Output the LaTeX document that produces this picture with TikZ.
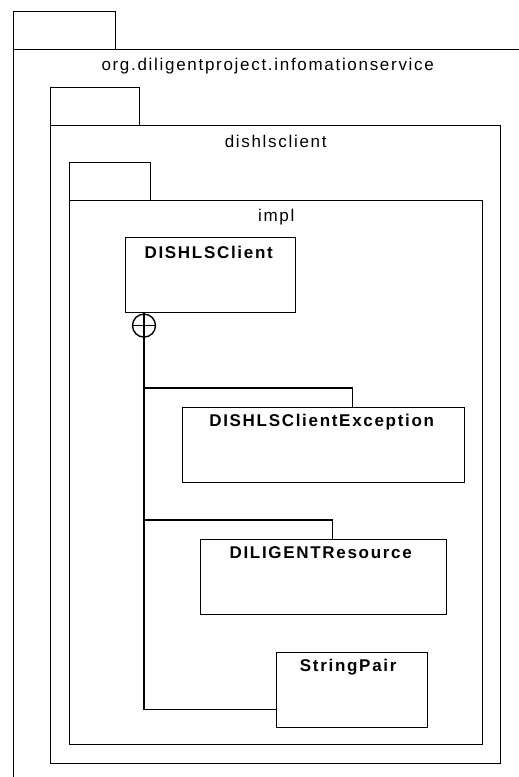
\documentclass[tikz,border=0pt]{standalone}
\usepackage{fontspec}
\setmainfont{Liberation Sans}[LetterSpace=10]
\usepackage{tikz}
\usetikzlibrary{positioning,calc}

\begin{document}
\begin{tikzpicture}[x=1pt,y=-1pt,line width=1.4pt,
pkgtab/.style={draw,rectangle,anchor=north west,minimum height=38pt,inner sep=0pt},
pkgbox/.style={draw,rectangle,anchor=north west,inner sep=0pt},
classbox/.style={draw,rectangle,anchor=north west,minimum height=75pt,inner sep=0pt},
pkgname/.style={font=\fontsize{17}{20}\selectfont,inner sep=0pt},
classname/.style={font=\fontsize{17}{20}\selectfont\bfseries,inner sep=0pt},
nest/.style={draw,circle,minimum size=23pt,inner sep=0pt,anchor=north}]
\useasboundingbox (0,0) rectangle (519,777);

% packages
\node[pkgtab,minimum width=102pt] (infotab) at (13,11) {};
\node[pkgbox,minimum width=508pt,minimum height=760pt] (info) at (13,49) {};
\node[pkgname] (infoname) at ([yshift=-17pt]info.north) {org.diligentproject.infomationservice};

\node[pkgtab,minimum width=89pt] (dishtab) at (50,87) {};
\node[pkgbox,minimum width=450pt,minimum height=638pt] (dish) at (50,125) {};
\node[pkgname] (dishname) at ([yshift=-16pt]dish.north) {dishlsclient};

\node[pkgtab,minimum width=81pt] (impltab) at (69,162) {};
\node[pkgbox,minimum width=413pt,minimum height=544pt] (impl) at (69,200) {};
\node[pkgname] (implname) at ([yshift=-17pt]impl.north) {impl};

% classes
\node[classbox,minimum width=170pt] (client) at (125,237) {};
\node[classname] (clientname) at ([xshift=-2pt,yshift=-15pt]client.north) {DISHLSClient};
\node[classbox,minimum width=282pt] (exc) at (182,407) {};
\node[classname] (excname) at ([xshift=-2pt,yshift=-15pt]exc.north) {DISHLSClientException};
\node[classbox,minimum width=246pt] (res) at (200,539) {};
\node[classname] (resname) at ([xshift=-3pt,yshift=-14pt]res.north) {DILIGENTResource};
\node[classbox,minimum width=151pt] (pair) at (276,652) {};
\node[classname] (pairname) at ([xshift=-4pt,yshift=-15pt]pair.north) {StringPair};

% nesting
\node[nest] (plus) at ([xshift=19pt]client.south west) {};
\draw (plus.north) -- (plus.south) (plus.west) -- (plus.east);
\coordinate (jexc) at (plus.south |- 0,388);
\coordinate (jres) at (plus.south |- 0,520);
\draw (plus.south) |- ([yshift=-19pt]pair.west);
\draw (jexc) -| ([xshift=29pt]exc.north);
\draw (jres) -| ([xshift=9pt]res.north);

\end{tikzpicture}
\end{document}
